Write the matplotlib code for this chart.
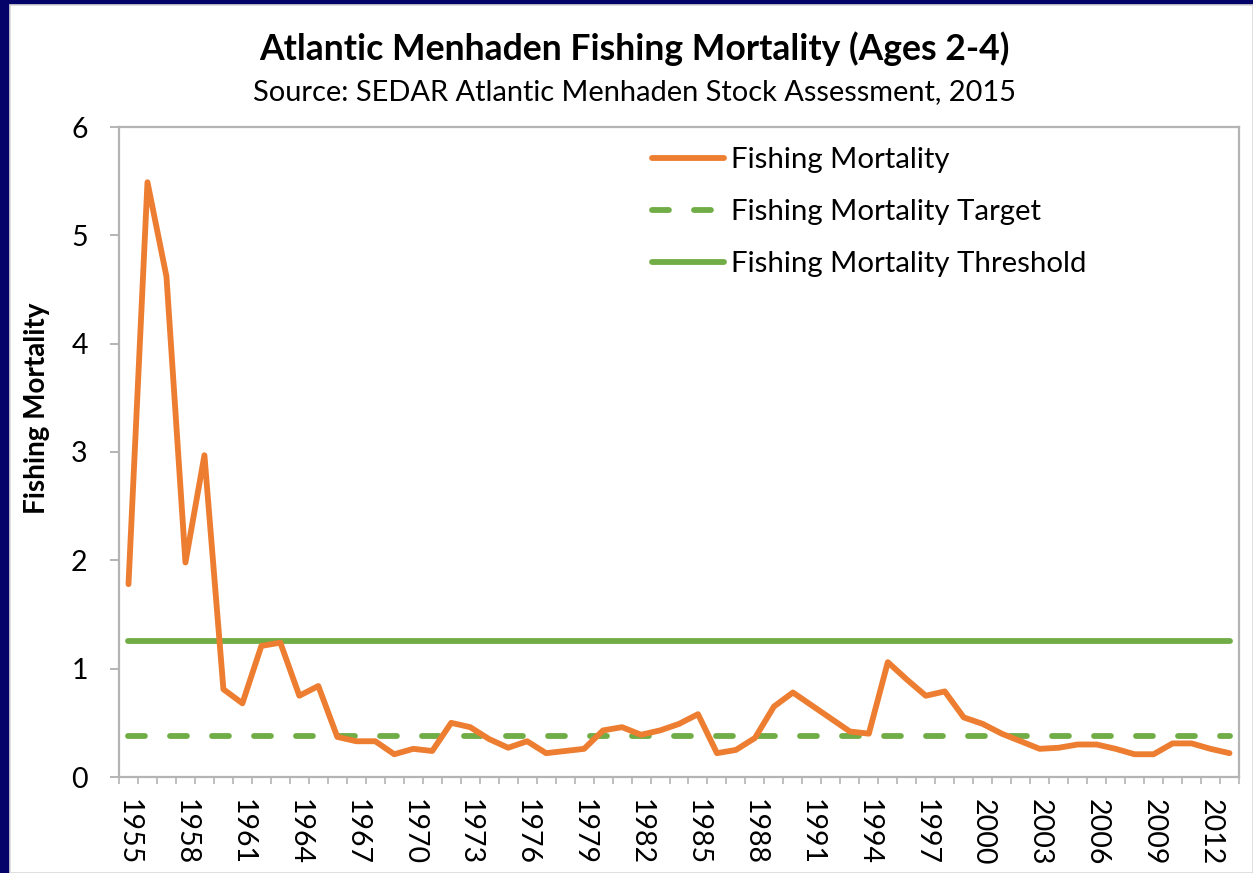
import matplotlib
matplotlib.use('Agg')
import matplotlib.pyplot as plt
from matplotlib.patches import Rectangle
import numpy as np

plt.rcParams['font.family'] = ['Lato', 'DejaVu Sans']

years = list(range(1955, 2014))
fishing_mortality = [1.78, 5.49, 4.62, 1.98, 2.97, 0.81, 0.68, 1.21, 1.24, 0.75,
                     0.84, 0.37, 0.33, 0.33, 0.21, 0.26, 0.24, 0.50, 0.46, 0.35,
                     0.27, 0.33, 0.22, 0.24, 0.26, 0.43, 0.46, 0.39, 0.43, 0.49,
                     0.58, 0.22, 0.25, 0.36, 0.65, 0.78, 0.66, 0.54, 0.42, 0.40,
                     1.06, 0.90, 0.75, 0.79, 0.55, 0.49, 0.40, 0.33, 0.26, 0.27,
                     0.30, 0.30, 0.26, 0.21, 0.21, 0.31, 0.31, 0.26, 0.22]
target_value = 0.38
threshold_value = 1.26
y_ticks = [0, 1, 2, 3, 4, 5, 6]
title = "Atlantic Menhaden Fishing Mortality (Ages 2-4)"
subtitle = "Source: SEDAR Atlantic Menhaden Stock Assessment, 2015"
ylabel = "Fishing Mortality"
series_names = ["Fishing Mortality", "Fishing Mortality Target", "Fishing Mortality Threshold"]

ORANGE = '#ED7D31'
GREEN = '#70AD47'
GRAY = '#B4B4B4'
NAVY = '#03036A'

W, H = 1253, 873
fig = plt.figure(figsize=(W / 100, H / 100), dpi=100, facecolor=NAVY)
fig.patches.append(Rectangle((10 / W, 0), (W - 10) / W, (H - 5) / H,
                             transform=fig.transFigure, facecolor='white',
                             edgecolor='#D9D9D9', linewidth=1.2, zorder=-10))

ax = fig.add_axes([119 / W, 96 / H, 1120 / W, 650 / H])
ax.set_facecolor('white')

LW = 4.2
x = np.arange(len(years))
n = len(years)
ax.plot(x, [threshold_value] * n, color=GREEN, lw=LW, solid_capstyle='round',
        label=series_names[2], zorder=2)
ax.plot(x, [target_value] * n, color=GREEN, lw=LW, dashes=(2.9, 4.3),
        dash_capstyle='round', label=series_names[1], zorder=2)
ax.plot(x, fishing_mortality, color=ORANGE, lw=LW, solid_joinstyle='round',
        solid_capstyle='round', label=series_names[0], zorder=3)

ax.set_xlim(-0.5, n - 0.5)
ax.set_ylim(0, 6)
ax.set_yticks(y_ticks)
ax.set_yticklabels([str(v) for v in y_ticks])
ax.set_xticks(x[::3])
ax.set_xticklabels([str(years[i]) for i in x[::3]], rotation=-90)
ax.set_xticks(np.arange(-0.5, n, 1), minor=True)

for s in ax.spines.values():
    s.set_color(GRAY)
    s.set_linewidth(1.6)

ax.tick_params(axis='y', direction='out', length=6.5, width=1.4, color=GRAY,
               labelsize=20.5, pad=16, labelcolor='black')
ax.tick_params(axis='x', which='major', length=0, labelsize=20.5, pad=16,
               labelcolor='black')
ax.tick_params(axis='x', which='minor', direction='out', length=5, width=1.2,
               color=GRAY)
for lab in ax.get_xticklabels():
    lab.set_va('top')
    lab.set_ha('center')

handles, labels = ax.get_legend_handles_labels()
order = [2, 1, 0]
leg = ax.legend([handles[i] for i in order], [labels[i] for i in order],
                loc='upper left', bbox_to_anchor=(652 / W, 1 - 147 / H),
                bbox_transform=fig.transFigure, frameon=False, fontsize=21.2,
                handlelength=2.45, handletextpad=0.24, labelspacing=0.88,
                borderpad=0, borderaxespad=0)

t1 = fig.text(634 / W, 1 - 60 / H, title, ha='center', va='baseline',
              fontsize=23, fontweight='bold', color='black')
t2 = fig.text(635 / W, 1 - 100 / H, subtitle, ha='center', va='baseline',
              fontsize=18, color='black')
yl = fig.text(37 / W, 1 - 408 / H, ylabel, ha='center', va='center',
              rotation=90, fontsize=18, fontweight='bold', color='black')

renderer = fig.canvas.get_renderer()
def fit(t, target, horizontal=True):
    bb = t.get_window_extent(renderer)
    size = bb.width if horizontal else bb.height
    t.set_fontsize(t.get_fontsize() * target / size)

fit(t1, 752)
fit(t2, 764)
fit(yl, 212, horizontal=False)

fig.savefig('out.png', dpi=100, facecolor=fig.get_facecolor())
